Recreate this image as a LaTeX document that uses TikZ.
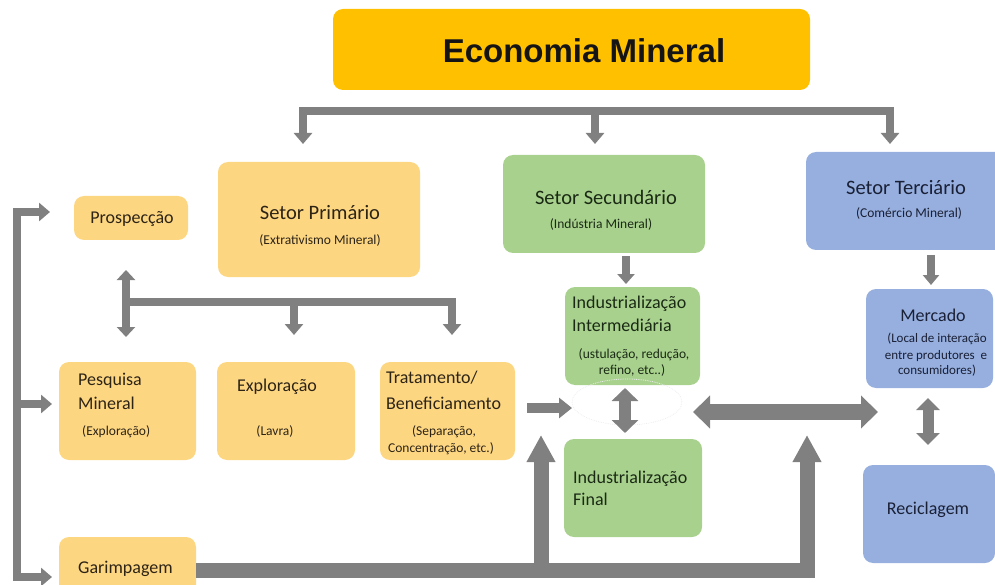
\documentclass[tikz,border=0pt]{standalone}
\usepackage{fontspec}
\setmainfont{Carlito}
\newfontfamily\headfont{Liberation Sans}
\usetikzlibrary{arrows.meta,shapes.geometric}
\definecolor{goldFill}{RGB}{255,192,0}
\definecolor{oreFill}{RGB}{253,214,130}
\definecolor{indFill}{RGB}{169,209,142}
\definecolor{tradeFill}{RGB}{150,175,222}
\definecolor{flowGray}{RGB}{128,128,128}
\definecolor{oreText}{RGB}{45,36,22}
\definecolor{indText}{RGB}{26,42,20}
\definecolor{tradeText}{RGB}{26,32,54}
\begin{document}
\begin{tikzpicture}[x=1pt,y=-1pt,
  panel/.style={rounded corners=10pt, inner sep=0pt, draw=none},
  ore/.style={panel, fill=oreFill},
  ind/.style={panel, fill=indFill},
  trade/.style={panel, fill=tradeFill},
  lbl/.style={inner sep=0pt, anchor=base},
  lblw/.style={inner sep=0pt, anchor=base west},
  txtbig/.style={font=\fontsize{20.5}{24}\selectfont},
  txtmid/.style={font=\fontsize{18}{22}\selectfont},
  txtsmall/.style={font=\fontsize{13.5}{16}\selectfont},
  txttiny/.style={font=\fontsize{13}{15}\selectfont},
  flow/.style={draw=flowGray, line width=8pt, line join=miter},
  flowtip/.style={flow, -{Triangle[width=18pt,length=11pt]}},
  flowboth/.style={flow, {Triangle[width=18pt,length=10pt]}-{Triangle[width=18pt,length=10pt]}},
]
\useasboundingbox (0,0) rectangle (995,585);

% ---- title ----
\node[panel, fill=goldFill, minimum width=477pt, minimum height=81pt] (title) at (571.5,49.5) {};
\node[lbl, font=\headfont\bfseries\fontsize{33}{37}\selectfont, text=black!92] (titletxt) at (584,63) {Economia Mineral};

% ---- sectors ----
\node[ore, minimum width=202pt, minimum height=115pt] (prim) at (319,219.5) {};
\node[lbl, txtbig, text=oreText] (primA) at (320,220) {Setor Primário};
\node[lbl, txtsmall, text=oreText] (primB) at (320,244.5) {(Extrativismo Mineral)};

\node[ind, minimum width=202pt, minimum height=98pt] (sec) at (604,204) {};
\node[lbl, txtbig, text=indText] (secA) at (606,205) {Setor Secundário};
\node[lbl, txtsmall, text=indText] (secB) at (601,228.5) {(Indústria Mineral)};

\node[trade, minimum width=202pt, minimum height=98pt] (ter) at (907,201) {};
\node[lbl, txtbig, text=tradeText] (terA) at (906,195) {Setor Terciário};
\node[lbl, txtsmall, text=tradeText] (terB) at (909,217.5) {(Comércio Mineral)};

% ---- primary chain ----
\node[ore, minimum width=114pt, minimum height=44pt] (prosp) at (131,218) {};
\node[lbl, txtmid, text=oreText] (prospA) at (132,224) {Prospecção};

\node[ore, minimum width=137pt, minimum height=98pt] (pesq) at (127.5,411) {};
\node[lblw, txtmid, text=oreText] (pesqA) at (78,385) {Pesquisa};
\node[lblw, txtmid, text=oreText] (pesqB) at (78,409) {Mineral};
\node[lblw, txtsmall, text=oreText] (pesqC) at (82,435.5) {(Exploração)};

\node[ore, minimum width=138pt, minimum height=98pt] (expl) at (286,411) {};
\node[lbl, txtmid, text=oreText] (explA) at (277,391) {Exploração};
\node[lbl, txtsmall, text=oreText] (explB) at (275,435.5) {(Lavra)};

\node[ore, minimum width=135pt, minimum height=98pt] (trat) at (447.5,411) {};
\node[lblw, txtmid, text=oreText] (tratA) at (386,383) {Tratamento/};
\node[lblw, txtmid, text=oreText] (tratB) at (386,409) {Beneficiamento};
\node[lbl, txtsmall, text=oreText] (tratC) at (444,435.5) {(Separação,};
\node[lbl, txtsmall, text=oreText] (tratD) at (441,452.5) {Concentração, etc.)};

\node[ore, minimum width=137pt, minimum height=58pt] (garimp) at (127.5,566) {};
\node[lblw, txtmid, text=oreText] (garimpA) at (78,573) {Garimpagem};

% ---- secondary chain ----
\node[ind, minimum width=135pt, minimum height=98pt] (inter) at (632.5,336) {};
\node[lblw, txtmid, text=indText] (interA) at (572,308) {Industrialização};
\node[lblw, txtmid, text=indText] (interB) at (572,331) {Intermediária};
\node[lbl, txtsmall, text=indText] (interC) at (634,358.5) {(ustulação, redução,};
\node[lbl, txtsmall, text=indText] (interD) at (632,374.5) {refino, etc..)};

\node[ind, minimum width=138pt, minimum height=98pt] (final) at (633,488) {};
\node[lblw, txtmid, text=indText] (finalA) at (573,483) {Industrialização};
\node[lblw, txtmid, text=indText] (finalB) at (573,505) {Final};

\node[ellipse, draw=gray!14, densely dotted, line width=0.8pt, minimum width=110pt, minimum height=46pt] (halo) at (627,402) {};

% ---- tertiary chain ----
\node[trade, minimum width=127pt, minimum height=99pt] (merc) at (929.5,338.5) {};
\node[lbl, txtmid, text=tradeText] (mercA) at (933,321) {Mercado};
\node[lbl, txttiny, text=tradeText] (mercB) at (937,342.5) {(Local de interação};
\node[lbl, txttiny, text=tradeText] (mercC) at (936,359.5) {entre produtores\ \ e};
\node[lbl, txttiny, text=tradeText] (mercD) at (937,374.5) {consumidores)};

\node[trade, minimum width=132pt, minimum height=98pt] (recic) at (929,514) {};
\node[lbl, txtmid, text=tradeText] (recicA) at (928,514) {Reciclagem};

% ---- connector end points ----
\coordinate (hubL) at (303,111);
\coordinate (hubM) at (595,111);
\coordinate (hubR) at (890,111);
\coordinate (toPrim) at (303,144);
\coordinate (toSec) at (595,144);
\coordinate (toTer) at (890,144);

\coordinate (spine) at (17,404);
\coordinate (inProsp) at (50,212);
\coordinate (inPesq) at (52,404);
\coordinate (inGarimp) at (52,577);

\coordinate (fanTop) at (126,270);
\coordinate (fanBot) at (126,337);
\coordinate (fanMid) at (126,302);
\coordinate (fanExpl) at (294,302);
\coordinate (toExpl) at (294,335);
\coordinate (toTrat) at (452,335);

\coordinate (tratOut) at (527,408);
\coordinate (tratIn) at (572,408);

\coordinate (secOut) at (626,256);
\coordinate (interIn) at (626,284);
\coordinate (interOut) at (625,388);
\coordinate (finalIn) at (625,433);
\coordinate (secSide) at (693,412);
\coordinate (terSide) at (878,412);
\coordinate (terOut) at (931,255);
\coordinate (mercIn) at (931,285);
\coordinate (mercOut) at (928,398);
\coordinate (recicIn) at (928,445);

\coordinate (garLeft) at (541,570);
\coordinate (garTipL) at (541,435);
\coordinate (garTipR) at (807,435);

% ---- connectors ----
\draw[flow, line cap=rect] (hubL) -- (hubR);
\draw[flowtip] (hubL) -- (toPrim);
\draw[flowtip] (hubM) -- (toSec);
\draw[flowtip] (hubR) -- (toTer);

\draw[flowtip] (spine) |- (inProsp);
\draw[flowtip] (spine) -- (inPesq);
\draw[flowtip] (spine) |- (inGarimp);

\draw[flowboth] (fanTop) -- (fanBot);
\draw[flowtip] (fanMid) -| (toTrat);
\draw[flowtip] (fanExpl) -- (toExpl);

\draw[flow, line width=10pt, -{Triangle[width=20pt,length=13pt]}] (tratOut) -- (tratIn);

\draw[flow, -{Triangle[width=17pt,length=10pt]}] (secOut) -- (interIn);
\draw[flow, line width=12pt, {Triangle[width=26pt,length=13pt]}-{Triangle[width=26pt,length=13pt]}] (interOut) -- (finalIn);

\draw[flow, line width=16pt, {Triangle[width=32pt,length=17pt]}-{Triangle[width=32pt,length=17pt]}] (secSide) -- (terSide);

\draw[flow, -{Triangle[width=16pt,length=10pt]}] (terOut) -- (mercIn);
\draw[flow, line width=11pt, {Triangle[width=23pt,length=12pt]}-{Triangle[width=23pt,length=12pt]}] (mercOut) -- (recicIn);

\draw[flow, line width=15pt, -{Triangle[width=27pt,length=27pt]}] (garimp.east |- garLeft) -| (garTipR);
\draw[flow, line width=15pt, -{Triangle[width=27pt,length=27pt]}] (garLeft) -- (garTipL);
\end{tikzpicture}
\end{document}
